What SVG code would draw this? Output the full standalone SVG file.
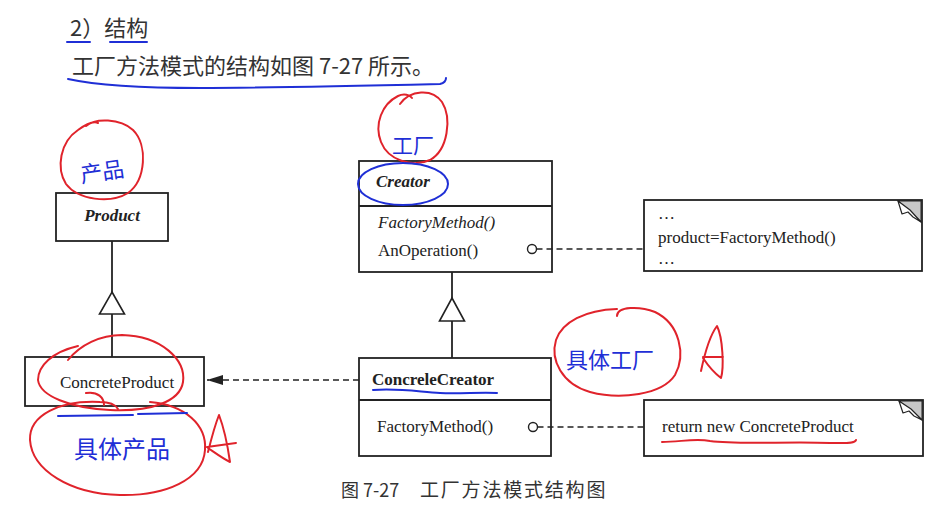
<svg xmlns="http://www.w3.org/2000/svg" width="942" height="516" viewBox="0 0 942 516">
<defs>
<style>
.box{fill:#fff;stroke:#222;stroke-width:1.8}
.ln{fill:none;stroke:#222;stroke-width:1.8}
.dash{fill:none;stroke:#222;stroke-width:1.6;stroke-dasharray:6 4}
.tri{fill:#fff;stroke:#222;stroke-width:1.6}
.t{font-family:"Liberation Serif","Times New Roman",serif;font-size:17px;fill:#222}
.bi{font-weight:bold;font-style:italic}
.b{font-weight:bold}
.i{font-style:italic}
.cn{font-family:"Noto Sans CJK SC","Noto Sans",sans-serif;fill:#333}
.red{fill:none;stroke:#e0232b;stroke-width:2;stroke-linecap:round;stroke-linejoin:round}
.blue{fill:none;stroke:#1f2fd6;stroke-width:2;stroke-linecap:round;stroke-linejoin:round}
.hw{font-family:"Noto Sans CJK SC",sans-serif;fill:#1f2fd6;font-weight:400}
.fold{fill:#c8c8c8;stroke:#222;stroke-width:1.2}
.flap{fill:#fff;stroke:#222;stroke-width:1.2;stroke-linejoin:round}
</style>
<marker id="filled" markerWidth="16" markerHeight="10" refX="16" refY="5" orient="auto" markerUnits="userSpaceOnUse">
<path d="M0,0 L16,5 L0,10 z" fill="#222"/>
</marker>
</defs>
<rect width="942" height="516" fill="#fff"/>

<g id="header">
<text class="cn" x="70" y="36" font-size="22">2）结构</text>
<text class="cn" x="72" y="74" font-size="22">工厂方法模式的结构如图 7-27 所示。</text>
</g>

<g id="product">
<rect class="box" x="56" y="193" width="112" height="48"/>
<text class="t bi" x="112" y="221" text-anchor="middle">Product</text>
</g>

<g id="concreteProduct">
<rect class="box" x="25" y="357" width="179" height="49"/>
<text class="t" x="117" y="388" text-anchor="middle">ConcreteProduct</text>
</g>

<g id="creator">
<rect class="box" x="359" y="161" width="193" height="111"/>
<line class="ln" x1="359" y1="206" x2="552" y2="206"/>
<text class="t bi" x="376" y="187">Creator</text>
<text class="t i" x="378" y="228">FactoryMethod()</text>
<text class="t" x="378" y="256">AnOperation()</text>
</g>

<g id="concreteCreator">
<rect class="box" x="359" y="358" width="192" height="98"/>
<line class="ln" x1="359" y1="400" x2="551" y2="400"/>
<text class="t b" x="372" y="385">ConcreleCreator</text>
<text class="t" x="377" y="432">FactoryMethod()</text>
</g>

<g id="note1">
<rect class="box" x="644" y="200" width="278" height="71"/>
<polygon class="fold" points="898,200.9 921.1,200.9 921.1,222"/>
<path class="flap" d="M898,201 L902,214 L908,212 L913,217 L921,222 L910,210 Z"/>
<text class="t" x="658" y="219">…</text>
<text class="t" x="658" y="243">product=FactoryMethod()</text>
<text class="t" x="658" y="264">…</text>
</g>

<g id="note2">
<rect class="box" x="644" y="400" width="279" height="56"/>
<polygon class="fold" points="899,400.9 922.1,400.9 922.1,420"/>
<path class="flap" d="M899,401 L903,413 L909,411 L914,416 L922,420 L911,409 Z"/>
<text class="t" x="662" y="432">return new ConcreteProduct</text>
</g>

<g id="connectors">
<line class="ln" x1="112" y1="241" x2="112" y2="357"/>
<polygon class="tri" points="112,292 124.5,314 99.5,314"/>
<line class="ln" x1="452" y1="272" x2="452" y2="358"/>
<polygon class="tri" points="452,298 464.5,321 439.5,321"/>
<line class="dash" x1="359" y1="380" x2="207" y2="380" marker-end="url(#filled)"/>
<circle cx="532" cy="249" r="4.5" fill="#fff" stroke="#222" stroke-width="1.4"/>
<line class="dash" x1="536.5" y1="249" x2="644" y2="249"/>
<circle cx="533" cy="427" r="4.5" fill="#fff" stroke="#222" stroke-width="1.4"/>
<line class="dash" x1="537.5" y1="427" x2="644" y2="427"/>
</g>

<g id="caption">
<text class="cn" x="341" y="497" font-size="18">图 7-27</text>
<text class="cn" x="420" y="497" font-size="19" letter-spacing="1.8">工厂方法模式结构图</text>
</g>

<g id="annotations">
<path class="blue" d="M67,42 L90,42 M110,42 L147,42"/>
<path class="blue" d="M68,79 C100,86 150,88 200,88 C260,88 350,86 440,84 C444,83 446,81 446,78"/>
<path class="red" d="M86,126 C95,118 120,118 133,130 C148,145 146,180 128,193 C110,204 78,200 66,184 C56,168 60,142 78,130 C86,124 94,121 98,123"/>
<text class="hw" x="80" y="180" font-size="22" transform="rotate(-8 100 170)">产品</text>
<path class="red" d="M400,104 C410,90 432,88 442,102 C452,118 448,150 430,160 C412,168 388,160 381,142 C374,124 382,104 398,96 C404,93 410,95 412,98"/>
<text class="hw" x="392" y="153" font-size="21">工厂</text>
<ellipse class="blue" cx="403" cy="184" rx="45" ry="21"/>
<path class="blue" d="M373,390 C400,388 420,392 440,393 C460,394 480,392 497,393"/>
<path class="red" d="M617,316 C617,306 640,306 655,312 C680,324 686,355 675,375 C662,395 620,400 590,392 C562,384 550,360 556,340 C562,322 585,310 617,309"/>
<text class="hw" x="566" y="368" font-size="22">具体工厂</text>
<path class="red" d="M701,371 C705,352 711,334 717,326 C723,338 724,368 721,378 C713,372 707,364 703,358 M703,357 L723,357"/>
<path class="red" d="M662,442 C680,442 695,438 710,441 C740,445 790,441 830,443 C845,443 855,444 856,440"/>
<path class="red" d="M68,360 C80,345 100,335 122,335 C162,336 186,360 183,382 C180,402 150,412 110,410 C70,408 40,396 38,380 C38,366 52,352 78,346 M86,393 C98,391 104,398 104,405"/>
<path class="red" d="M150,402 C185,405 207,425 205,450 C203,480 165,496 120,495 C70,494 32,470 30,440 C29,415 60,400 100,402 C110,402 115,404 118,409"/>
<path class="blue" d="M58,416 L133,415 M138,414 L187,413"/>
<text class="hw" x="74" y="458" font-size="24">具体产品</text>
<path class="red" d="M208,452 C211,440 215,425 219,415 C224,428 228,448 230,462 C222,458 214,452 208,448 M207,447 L236,443"/>
</g>
</svg>
